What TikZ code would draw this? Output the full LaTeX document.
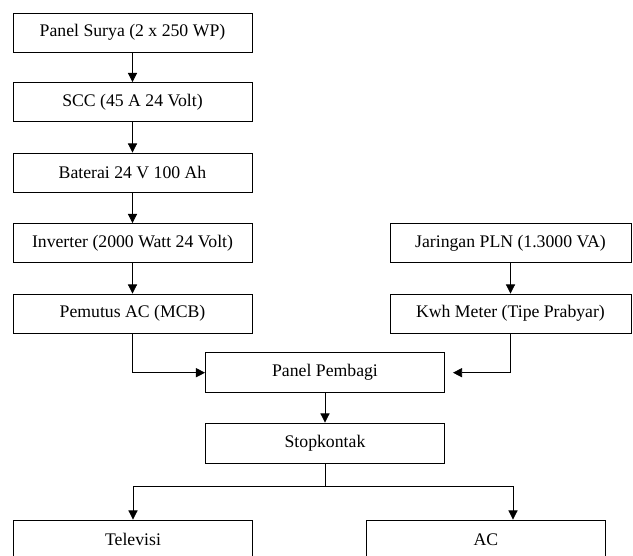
\documentclass[tikz,border=0pt]{standalone}
\usepackage{fontspec}
\setmainfont{Liberation Serif}
\usetikzlibrary{arrows.meta,calc}

\begin{document}
\begin{tikzpicture}[x=0.025cm,y=-0.025cm,
    blok/.style={draw,line width=.6pt,minimum width=5.975cm,minimum height=.975cm,
        inner sep=0pt,font=\fontsize{12.6}{14}\selectfont},
    panah/.style={line width=.6pt,-{Triangle[width=6.5pt,length=6.5pt]}}]
    \clip (0,0) rectangle (633,556);
    % sisi kiri: sumber surya
    \node[blok] (surya) at (132.5,32.5) {Panel Surya (2 x 250 WP)};
    \node[blok] (scc) at (132.5,102) {SCC (45 A 24 Volt)};
    \node[blok] (baterai) at (132.5,172.5) {Baterai 24 V 100 Ah};
    \node[blok] (inverter) at (132.5,243) {Inverter (2000 Watt 24 Volt)};
    \node[blok] (mcb) at (132.5,313.5) {Pemutus AC (MCB)};
    % sisi kanan: PLN
    \node[blok,minimum width=6.025cm] (pln) at (510.5,243) {Jaringan PLN (1.3000 VA)};
    \node[blok,minimum width=6.025cm] (kwh) at (510.5,313.5) {Kwh Meter (Tipe Prabyar)};
    % tengah
    \node[blok,minimum height=1cm] (pembagi) at (325,372.7) {Panel Pembagi};
    \node[blok,minimum height=1cm] (stop) at (325,443) {Stopkontak};
    \node[blok] (tv) at (133,539.5) {Televisi};
    \node[blok] (ac) at (486,539.5) {AC};
    \coordinate (cabang) at ($(stop.south)+(0,23)$);
    \coordinate (masukkwh) at ($(pembagi.east)+(8,0)$);

    \draw[panah] (surya) -- (scc);
    \draw[panah] (scc) -- (baterai);
    \draw[panah] (baterai) -- (inverter);
    \draw[panah] (inverter) -- (mcb);
    \draw[panah] (pln) -- (kwh);
    \draw[panah] (mcb.south) |- (pembagi.west);
    \draw[panah] (kwh.south) |- (masukkwh);
    \draw[panah] (pembagi) -- (stop);
    \draw[line width=.6pt] (stop.south) -- (cabang);
    \draw[panah] (cabang) -| (tv.north);
    \draw[panah] (cabang) -| ($(ac.north)+(27,0)$);
\end{tikzpicture}
\end{document}
